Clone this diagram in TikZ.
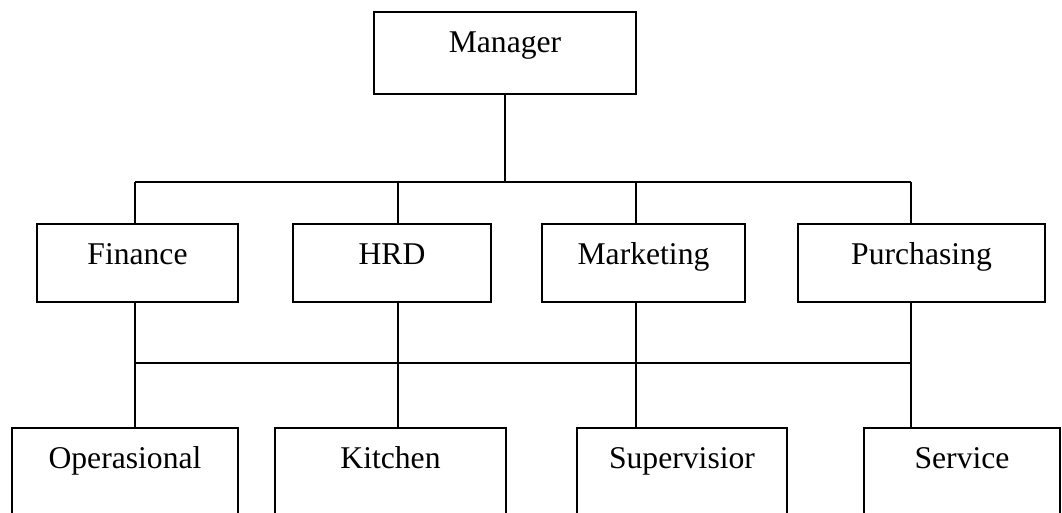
\documentclass[tikz,border=0pt]{standalone}
\usepackage{fontspec}
\setmainfont{Liberation Serif}

\def\px{0.025cm}
\def\txtup{1.025cm}

\tikzset{
  orgbox/.style={draw, line width=1.1pt, anchor=north, inner sep=0pt,
    text height=\txtup, font=\fontsize{22.5}{27}\selectfont},
  orgline/.style={line width=1.1pt}
}

\begin{document}
\begin{tikzpicture}[x=\px, y=-\px]
    \useasboundingbox (0,0) rectangle (1062,512);
    \node[orgbox, minimum width=262*\px, text depth=41*\px] (mgr) at (505,11) {Manager};
    \foreach \name/\x/\w/\label in {fin/137.5/201/Finance,hrd/392/198/HRD,
        mkt/643.5/203/Marketing,pur/921.5/247/Purchasing} {
      \node[orgbox, minimum width=\w*\px, text depth=37*\px] (\name) at (\x,223) {\label};
    }
    \foreach \name/\x/\w/\label in {op/125/226/Operasional,kit/390.5/231/Kitchen,
        sup/682/210/Supervisior,ser/962/196/Service} {
      \node[orgbox, minimum width=\w*\px, text depth=120*\px] (\name) at (\x,427) {\label};
    }
    % columns of the two buses
    \foreach \i/\x in {1/135,2/398,3/636,4/911} {
      \coordinate (col\i) at (\x,182);
    }
    \coordinate (low) at (0,363);
    \draw[orgline] (mgr.south) -- (mgr.south |- col1);
    \draw[orgline] (col1) -- (col4);
    \draw[orgline] (col1 |- low) -- (col4 |- low);
    \foreach \i/\up/\down in {1/fin/op,2/hrd/kit,3/mkt/sup,4/pur/ser} {
      \draw[orgline] (col\i) -- (col\i |- \up.north);
      \draw[orgline] (col\i |- \up.south) -- (col\i |- \down.north);
    }
\end{tikzpicture}
\end{document}
